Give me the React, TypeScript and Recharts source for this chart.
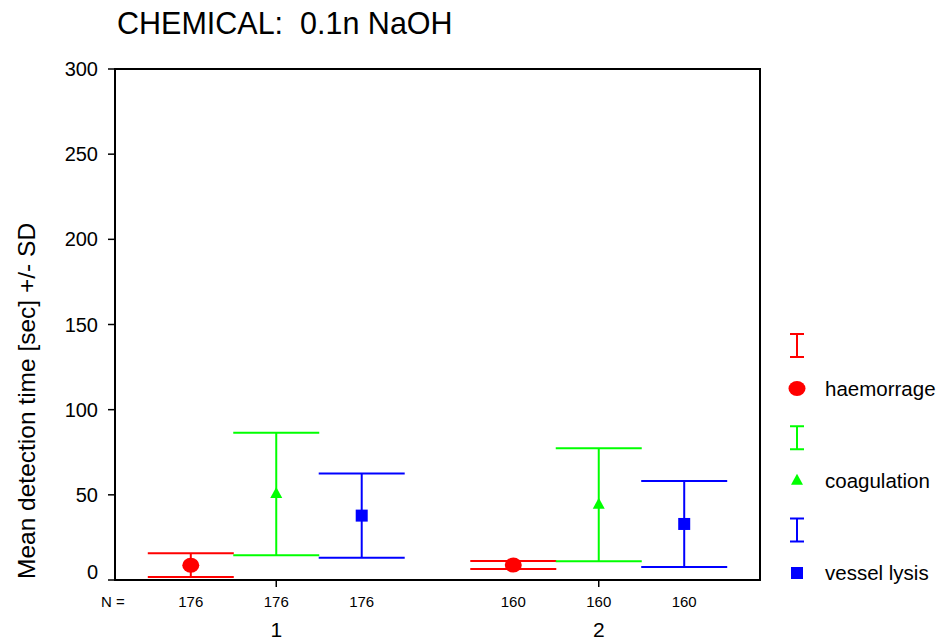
import React from 'react';
import { ComposedChart, Scatter, ErrorBar, XAxis, YAxis, ReferenceArea, Label } from 'recharts';

// groups on the x axis
const groups = [1, 2];

// sample sizes per group (same for all three series)
const nCounts = [176, 160];

// mean detection time [sec] and SD per group
const haemorrageMean = [8.7, 8.8];
const haemorrageSD = [7.0, 2.4];
const coagulationMean = [50.5, 44.2];
const coagulationSD = [36.0, 33.2];
const lysisMean = [37.8, 32.9];
const lysisSD = [24.7, 25.2];

const yTicks = [0, 50, 100, 150, 200, 250, 300];

const FONT = '"Liberation Sans", Arial, Helvetica, sans-serif';

const series = [
  { name: 'haemorrage', color: '#ff0000', mean: haemorrageMean, sd: haemorrageSD, shape: 'circle', offset: -0.265 },
  { name: 'coagulation', color: '#00ff00', mean: coagulationMean, sd: coagulationSD, shape: 'triangle', offset: 0 },
  { name: 'vessel lysis', color: '#0000ff', mean: lysisMean, sd: lysisSD, shape: 'square', offset: 0.265 },
];

const buildData = (s: (typeof series)[number]) =>
  groups.map((g, i) => ({ x: g + s.offset, y: s.mean[i], sd: s.sd[i] }));

// x ticks: "N =" at the left edge, then one per error bar
const xTicks = [0.5];
const xTickN = ['N ='];
groups.forEach((g, i) => {
  series.forEach((s) => {
    xTicks.push(g + s.offset);
    xTickN.push(String(nCounts[i]));
  });
});

function Marker({ kind, cx, cy, color }: { kind: string; cx: number; cy: number; color: string }) {
  if (kind === 'circle') return <ellipse cx={cx} cy={cy} rx={8.5} ry={7.5} fill={color} />;
  if (kind === 'triangle')
    return <polygon points={`${cx},${cy - 7} ${cx - 6},${cy + 4} ${cx + 6},${cy + 4}`} fill={color} />;
  return <rect x={cx - 6} y={cy - 6} width={12} height={12} fill={color} />;
}

const YTick = (props: any) => {
  const { x, y, payload } = props;
  const shift = payload.value === 0 ? -8 : 0;
  return (
    <text x={x} y={y + shift} dy="0.35em" textAnchor="end" fontSize={20} fill="#000" fontFamily={FONT}>
      {payload.value}
    </text>
  );
};

const XTick = (props: any) => {
  const { x, y, payload, index } = props;
  const isGroup = groups.includes(payload.value);
  return (
    <g>
      <text x={index === 0 ? x - 2 : x} y={y + 27} textAnchor="middle" fontSize={15} fill="#000" fontFamily={FONT}>
        {xTickN[index]}
      </text>
      {isGroup && (
        <>
          <line x1={x} x2={x} y1={y} y2={y + 7} stroke="#000" strokeWidth={1.5} />
          <text x={x} y={y + 57} textAnchor="middle" fontSize={21} fill="#000" fontFamily={FONT}>
            {payload.value}
          </text>
        </>
      )}
    </g>
  );
};

function LegendBox() {
  return (
    <svg width={180} height={300} style={{ position: 'absolute', left: 767, top: 310 }}>
      {series.map((s, i) => {
        const barY = 35.5 + i * 92.25;
        const mY = barY + 43;
        return (
          <g key={s.name}>
            <line x1={30} x2={30} y1={barY - 11.5} y2={barY + 11.5} stroke={s.color} strokeWidth={2} />
            <line x1={23} x2={37} y1={barY - 11.5} y2={barY - 11.5} stroke={s.color} strokeWidth={2} />
            <line x1={23} x2={37} y1={barY + 11.5} y2={barY + 11.5} stroke={s.color} strokeWidth={2} />
            <Marker kind={s.shape} cx={30} cy={mY} color={s.color} />
            <text x={58} y={mY} dy="0.35em" fontSize={20.5} fontFamily={FONT} fill="#000">
              {s.name}
            </text>
          </g>
        );
      })}
    </svg>
  );
}

export default function App() {
  return (
    <div style={{ position: 'absolute', left: 0, top: 0, width: 947, height: 641, background: '#fff', fontFamily: FONT }}>
      <div
        style={{
          position: 'absolute',
          left: 117,
          top: 8,
          fontSize: 30.5,
          lineHeight: '30.5px',
          whiteSpace: 'pre',
          color: '#000',
        }}
      >
        CHEMICAL:  0.1n NaOH
      </div>
      <ComposedChart width={947} height={641} margin={{ top: 69, right: 187, bottom: 0, left: 0 }}>
        <XAxis
          xAxisId="g"
          type="number"
          dataKey="x"
          domain={[0.5, 2.5]}
          ticks={xTicks}
          allowDataOverflow
          height={61}
          tickSize={0}
          tickMargin={0}
          interval={0}
          tick={<XTick />}
          tickLine={false}
          axisLine={{ stroke: '#000', strokeWidth: 2 }}
        />
        <YAxis
          type="number"
          dataKey="y"
          domain={[0, 300]}
          ticks={yTicks}
          width={115}
          tickSize={7}
          tickMargin={10}
          interval={0}
          tick={<YTick />}
          axisLine={{ stroke: '#000', strokeWidth: 2 }}
          tickLine={{ stroke: '#000', strokeWidth: 1.5 }}
        >
          <Label
            content={() => (
              <text
                transform="translate(35,579) rotate(-90)"
                fontSize={24.5}
                fontFamily={FONT}
                fill="#000"
                textAnchor="start"
              >
                Mean detection time [sec] +/- SD
              </text>
            )}
          />
        </YAxis>
        <ReferenceArea
          xAxisId="g"
          x1={0.5}
          x2={2.5}
          y1={0}
          y2={300}
          fill="none"
          stroke="#000"
          strokeWidth={2}
          ifOverflow="visible"
        />
        {series.map((s) => (
          <Scatter
            key={s.name}
            name={s.name}
            xAxisId="g"
            data={buildData(s)}
            isAnimationActive={false}
            shape={(p: any) => <Marker kind={s.shape} cx={p.cx} cy={p.cy} color={s.color} />}
          >
            <ErrorBar dataKey="sd" direction="y" width={43} stroke={s.color} strokeWidth={2} isAnimationActive={false} />
          </Scatter>
        ))}
      </ComposedChart>
      <LegendBox />
    </div>
  );
}
